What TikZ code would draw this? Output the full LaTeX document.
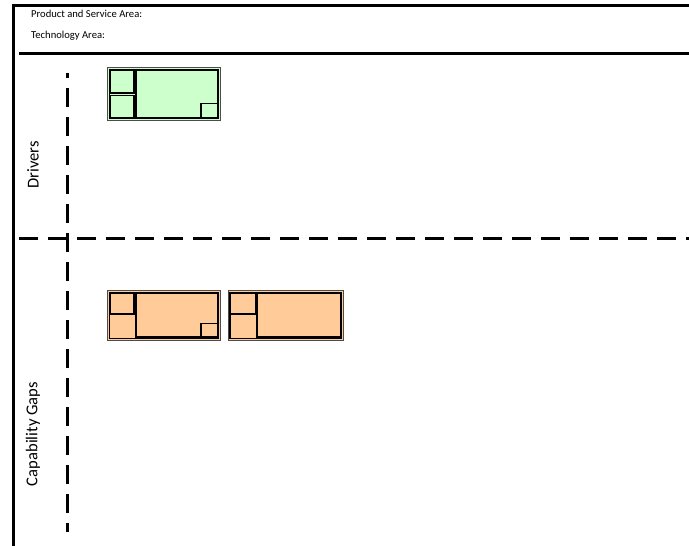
\documentclass[tikz,border=0pt]{standalone}
\usepackage{fontspec}
\setmainfont{Carlito}
\usetikzlibrary{positioning}

\definecolor{drvgreen}{HTML}{CCFFCC}
\definecolor{gaporange}{HTML}{FFCC99}

\begin{document}
\begin{tikzpicture}[x=1pt,y=-1pt,
  frame/.style={line width=3pt},
  lane/.style={line width=2.6pt,dash pattern=on 19pt off 10pt},
  hdr/.style={font=\fontsize{10.6}{12}\selectfont,anchor=west,inner sep=0pt},
  lanelabel/.style={font=\fontsize{16.6}{19}\selectfont,rotate=90,inner sep=0pt},
  cardout/.style={draw=black!70,line width=1pt},
  cardin/.style={draw=black,line width=1.3pt}]
\useasboundingbox (0,0) rectangle (689,546);
% header
\draw[frame] (13,546) -- (13,5.5) -- (689,5.5);
\draw[frame] (19,53.5) -- (689,53.5);
\node[hdr] (psa) at (31,14) {Product and Service Area:};
\node[hdr] (tech) at (31,36) {Technology Area:};
% swim lanes
\draw[lane] (19,238.5) -- (689,238.5);
\draw[lane,dash phase=14pt] (67.5,73) -- (67.5,532);
\node[lanelabel] (drivers) at (33,165) {Drivers};
\node[lanelabel] (gaps) at (33,434) {Capability Gaps};
% driver card
\begin{scope}
\filldraw[cardout,fill=drvgreen] (107.5,67.5) rectangle (220.5,120.5);
\draw[cardin] (109.5,69.5) rectangle (218.5,118.5);
\draw[cardin] (110,70.5) rectangle (134,93);
\draw[cardin] (110,95.5) rectangle (134,117.5);
\draw[cardin] (136,70.5) rectangle (218,118);
\draw[cardin] (201,103.5) rectangle (218,118);
\end{scope}
% gap cards
\begin{scope}
\filldraw[cardout,fill=gaporange] (107.5,290.5) rectangle (220.5,340.5);
\draw[cardin] (109.5,292.5) rectangle (218.5,338.5);
\draw[cardin] (110,293.5) rectangle (134,314);
\draw[cardin] (136,293.5) rectangle (218,337);
\draw[cardin] (201,323.5) rectangle (218,337);
\end{scope}
\begin{scope}[xshift=120.5pt]
\filldraw[cardout,fill=gaporange] (107.5,290.5) rectangle (222.5,340.5);
\draw[cardin] (109.5,292.5) rectangle (220.5,338.5);
\draw[cardin] (110,293.5) rectangle (135,314);
\draw[cardin] (136.5,293.5) rectangle (220,337);
\end{scope}
\end{tikzpicture}
\end{document}
